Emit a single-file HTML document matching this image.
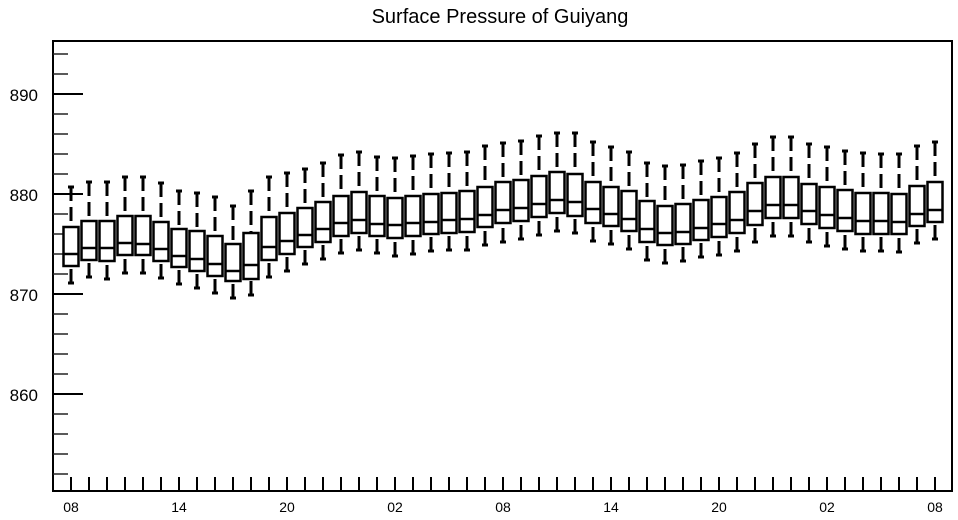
<!DOCTYPE html>
<html><head><meta charset="utf-8"><style>
html,body{margin:0;padding:0;background:#fff;}
svg{display:block;font-family:"Liberation Sans",Arial,sans-serif;}
</style></head><body>
<svg id="chart" width="958" height="520" viewBox="0 0 958 520" xmlns="http://www.w3.org/2000/svg">
<text x="500" y="23" text-anchor="middle" font-size="20" fill="#000">Surface Pressure of Guiyang</text>
<g id="axes"></g>
<g id="boxes"></g>
</svg>
<script>
const hiVals  = [880.7,881.2,881.2,881.7,881.7,881.1,880.3,880.1,879.7,878.8,880.3,881.7,882.1,882.5,883.1,883.9,884.2,883.7,883.6,883.8,884.0,884.1,884.2,884.8,885.1,885.3,885.8,886.1,886.1,885.2,884.7,884.2,883.1,882.8,882.9,883.3,883.6,884.1,885.0,885.7,885.7,885.0,884.7,884.3,884.1,884.0,884.0,884.8,885.2];
const q3Vals  = [876.7,877.3,877.3,877.8,877.8,877.2,876.5,876.3,875.8,875.0,876.1,877.7,878.1,878.6,879.2,879.8,880.2,879.8,879.6,879.8,880.0,880.1,880.3,880.7,881.2,881.4,881.8,882.2,882.0,881.2,880.7,880.3,879.3,878.8,879.0,879.4,879.7,880.2,881.1,881.7,881.7,881.0,880.7,880.4,880.1,880.1,880.0,880.8,881.2];
const medVals = [874.0,874.6,874.6,875.1,875.0,874.5,873.8,873.5,873.0,872.3,872.9,874.7,875.3,875.9,876.5,877.1,877.4,877.0,876.9,877.1,877.2,877.4,877.5,877.9,878.4,878.6,879.0,879.4,879.2,878.5,878.0,877.5,876.5,876.1,876.2,876.6,877.0,877.4,878.3,878.9,878.9,878.3,877.9,877.6,877.3,877.3,877.2,878.0,878.4];
const q1Vals  = [872.8,873.4,873.3,873.9,873.9,873.3,872.7,872.3,871.8,871.3,871.5,873.4,874.0,874.7,875.2,875.8,876.1,875.8,875.6,875.8,876.0,876.1,876.2,876.7,877.1,877.3,877.7,878.1,877.8,877.1,876.8,876.3,875.2,874.9,875.0,875.4,875.7,876.1,876.9,877.6,877.6,877.0,876.6,876.3,876.0,876.0,876.0,876.8,877.2];
const loVals  = [871.1,871.7,871.5,872.1,872.1,871.6,871.0,870.6,870.1,869.6,869.9,871.7,872.3,873.0,873.5,874.1,874.4,874.1,873.8,874.0,874.3,874.4,874.4,874.9,875.2,875.5,875.9,876.3,876.1,875.3,875.0,874.5,873.4,873.1,873.3,873.7,873.9,874.3,875.2,875.8,875.8,875.2,874.8,874.5,874.3,874.3,874.2,875.1,875.5];
const xLabels = ["08","14","20","02","08","14","20","02","08"];
const yMajor = [860,870,880,890];
const yMinor = [852,854,856,858,862,864,866,868,872,874,876,878,882,884,886,888,892,894];

const NS="http://www.w3.org/2000/svg";
const L=53,R=952,T=41,B=491;
function yScale(v){return 194-(v-880)*10;}
function xScale(i){return 71+i*18;}
function mk(tag,attrs,parent){const e=document.createElementNS(NS,tag);for(const k in attrs)e.setAttribute(k,attrs[k]);parent.appendChild(e);return e;}
const axes=document.getElementById('axes');
const boxes=document.getElementById('boxes');

let fr=mk('rect',{x:L,y:T,width:R-L,height:B-T,fill:'none',stroke:'#000','stroke-width':2},axes);



yMajor.forEach(v=>{
  const y=yScale(v);
  const t=mk('line',{x1:L,x2:L+30,y1:y,y2:y,stroke:'#000','stroke-width':2},axes);
  
  
  const lb=mk('text',{x:38,y:y+7,'text-anchor':'end','font-size':17,fill:'#000'},axes);
  
  
  lb.textContent=v;
});
yMinor.forEach(v=>{
  const y=yScale(v);
  const t=mk('line',{x1:L,x2:L+15,y1:y,y2:y,stroke:'#222','stroke-width':1.5},axes);
  
  
});
for(let i=0;i<hiVals.length;i++){
  const x=xScale(i);
  const t=mk('line',{x1:x,x2:x,y1:B-14,y2:B,stroke:'#000','stroke-width':2},axes);
  
  
}
xLabels.forEach((s,k)=>{
  const lb=mk('text',{x:xScale(k*6),y:512,'text-anchor':'middle','font-size':14,fill:'#000'},axes);
  
  
  lb.textContent=s;
});

for(let i=0;i<hiVals.length;i++){
  const x=xScale(i),w=15;
  const g=mk('g',{},boxes);
  
  
  const yh=yScale(hiVals[i]),y3=yScale(q3Vals[i]),ym=yScale(medVals[i]),y1=yScale(q1Vals[i]),yl=yScale(loVals[i]);
  const wu=mk('line',{x1:x,x2:x,y1:yh,y2:y3,stroke:'#000','stroke-width':3,'stroke-dasharray':'14,6'},g);
  
  
  const wl=mk('line',{x1:x,x2:x,y1:yl,y2:y1,stroke:'#000','stroke-width':3,'stroke-dasharray':'14,6'},g);
  
  
  const ch=mk('line',{x1:x-3,x2:x+3,y1:yh,y2:yh,stroke:'#000','stroke-width':3},g);
  
  
  const cl=mk('line',{x1:x-3,x2:x+3,y1:yl,y2:yl,stroke:'#000','stroke-width':3},g);
  
  
  const b=mk('rect',{x:x-w/2,y:y3,width:w,height:y1-y3,fill:'#fff',stroke:'#000','stroke-width':2.5},g);
  
  
  const m=mk('line',{x1:x-w/2,x2:x+w/2,y1:ym,y2:ym,stroke:'#000','stroke-width':2.5},g);
  
  
}
</script>
</body></html>
